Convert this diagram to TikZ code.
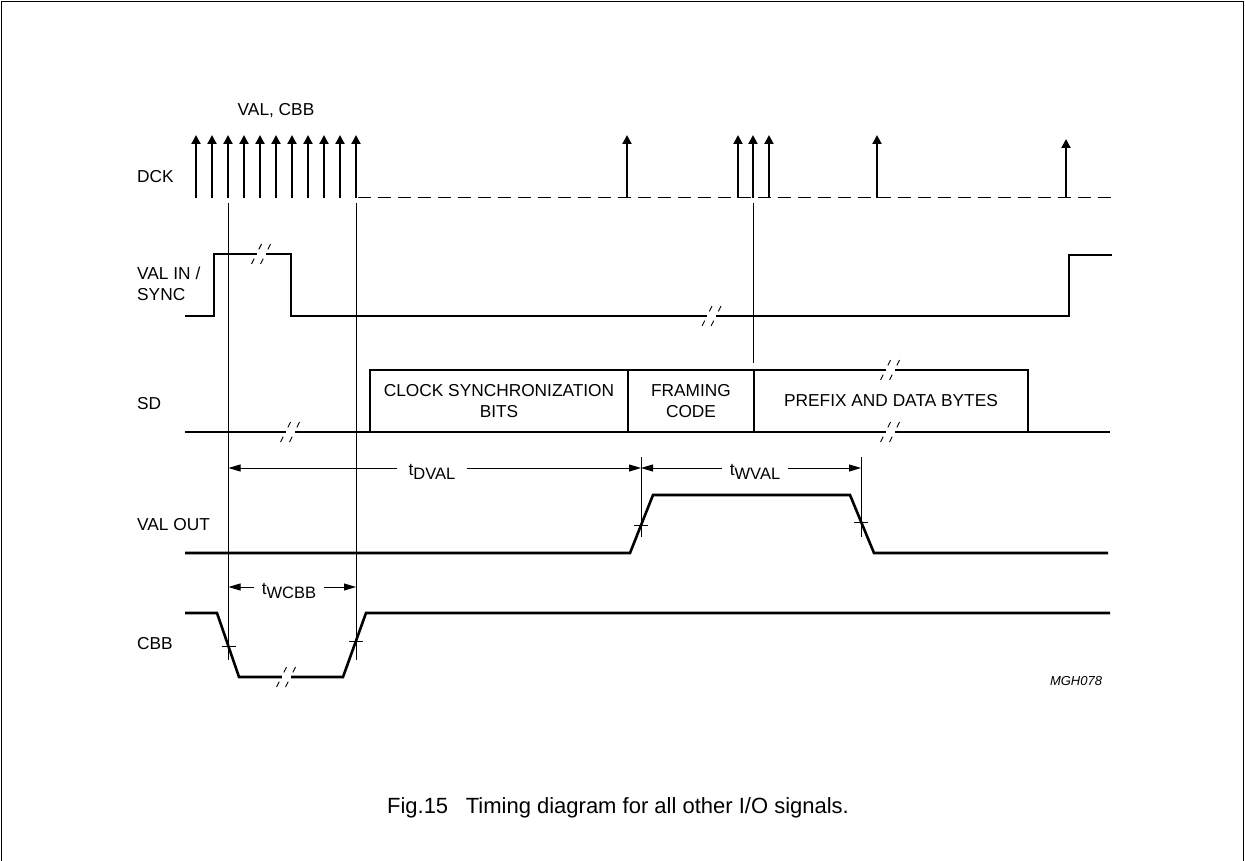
\documentclass[tikz,border=0pt]{standalone}
\usepackage{fontspec}
\setmainfont{Liberation Sans}
\usetikzlibrary{arrows.meta}
\newcommand\mainfs{\fontsize{17.3}{21}\selectfont}
\newcommand\subfs{\fontsize{16.5}{16.5}\selectfont}
\newcommand\tsub[1]{t\raisebox{-4pt}{\subfs #1}}
\newcommand\brk[2]{%
  \fill[white] (#1-4.5,#2-2.5) rectangle (#1+4.5,#2+2.5);
  \foreach \dd in {-4.5,4.5}
    \draw[line width=0.9pt, dash pattern=on 6pt off 10.4pt on 6pt off 60pt]
      (#1+\dd-5,#2+10) -- (#1+\dd+5,#2-10);
}
\begin{document}
\begin{tikzpicture}[x=1pt,y=-1pt,
  sig/.style={line width=2.6pt, line join=miter},
  thin/.style={line width=0.9pt},
  clk/.style={line width=2pt, -{Triangle[length=9pt,width=9pt]}},
  dim/.style={line width=0.9pt, -{Triangle[length=12pt,width=7pt]}},
  lbl/.style={anchor=west, inner sep=0pt, font=\mainfs, align=left},
  txt/.style={inner sep=0pt, font=\mainfs, align=center},
  dimlbl/.style={anchor=base, inner xsep=8pt, inner ysep=0pt, font=\mainfs}]
\useasboundingbox (0,0) rectangle (1245,861);
% frame
\draw[line width=1.2pt] (1.5,861) -- (1.5,1.5) -- (1243.5,1.5) -- (1243.5,861);

% labels
\node[lbl] (lDCK) at (137,177) {DCK};
\node[lbl] (lVAL) at (137,284) {VAL IN /\\SYNC};
\node[lbl] (lSD) at (137,404) {SD};
\node[lbl] (lVO) at (137,525) {VAL OUT};
\node[lbl] (lCBB) at (137,644) {CBB};
\node[txt] (vc) at (276,111) {VAL, CBB};

% DCK
\foreach \i in {0,...,10} \draw[clk] (196+16*\i,198) -- (196+16*\i,135);
\foreach \xx in {627,738,753,769,877} \draw[clk] (\xx,198) -- (\xx,135);
\draw[clk] (1066,198) -- (1066,139);
\draw[line width=1pt, dash pattern=on 13pt off 7pt] (358,198) -- (1113,198);

% thin vertical reference lines
\draw[thin] (228.5,203) -- (228.5,660);
\draw[thin] (356,203) -- (356,660);
\draw[thin] (753,203) -- (753,363);
\draw[thin] (641,457) -- (641,537);
\draw[thin] (861,457) -- (861,537);

% VAL IN / SYNC
\draw[sig] (185,316) -- (214,316) -- (214,254) -- (291,254) -- (291,316)
  -- (1069,316) -- (1069,255) -- (1112,255);
\brk{261}{254}
\brk{711.5}{316}

% SD
\draw[sig] (185,432) -- (1110,432);
\draw[sig] (370,432) -- (370,370) -- (1028,370) -- (1028,432);
\draw[sig] (628,370) -- (628,432);
\draw[sig] (754,370) -- (754,432);
\brk{290}{432}
\brk{890}{370}
\brk{890}{432}
\node[txt] (csb) at (499,401) {CLOCK SYNCHRONIZATION\\BITS};
\node[txt] (fc) at (691,401) {FRAMING\\CODE};
\node[txt] (pdb) at (891,401) {PREFIX AND DATA BYTES};

% timing dimensions
\coordinate (dvL) at (228.5,468);
\coordinate (dvR) at (641,468);
\coordinate (wvL) at (641,468);
\coordinate (wvR) at (861,468);
\coordinate (wcL) at (228.5,587);
\coordinate (wcR) at (356,587);
\node[dimlbl, inner xsep=11pt] (tdval) at (432,475) {\tsub{DVAL}};
\node[dimlbl] (twval) at (755,475) {\tsub{WVAL}};
\node[dimlbl] (twcbb) at (289,594) {\tsub{WCBB}};
\draw[dim] (tdval.west |- dvL) -- (dvL);
\draw[dim] (tdval.east |- dvR) -- (dvR);
\draw[dim] (twval.west |- wvL) -- (wvL);
\draw[dim] (twval.east |- wvR) -- (wvR);
\draw[dim] (twcbb.west |- wcL) -- (wcL);
\draw[dim] (twcbb.east |- wcR) -- (wcR);

% VAL OUT
\draw[sig] (185,553) -- (630,553) -- (653,495) -- (850,495) -- (874,553) -- (1108,553);
\draw[thin] (634,525) -- (648,525);
\draw[thin] (854,522) -- (868,522);

% CBB
\draw[sig] (185,613) -- (217,613) -- (239,677) -- (343,677) -- (366,613) -- (1110,613);
\brk{286}{677}
\draw[thin] (221.5,646) -- (235.5,646);
\draw[thin] (349,641) -- (363,641);

% tag and caption
\node[inner sep=0pt, font=\fontsize{13}{13}\selectfont\itshape] (tag) at (1076,681) {MGH078};
\node[txt, font=\fontsize{22}{24}\selectfont] (cap) at (618,808) {Fig.15\hspace{0.8em}Timing diagram for all other I/O signals.};
\end{tikzpicture}
\end{document}
